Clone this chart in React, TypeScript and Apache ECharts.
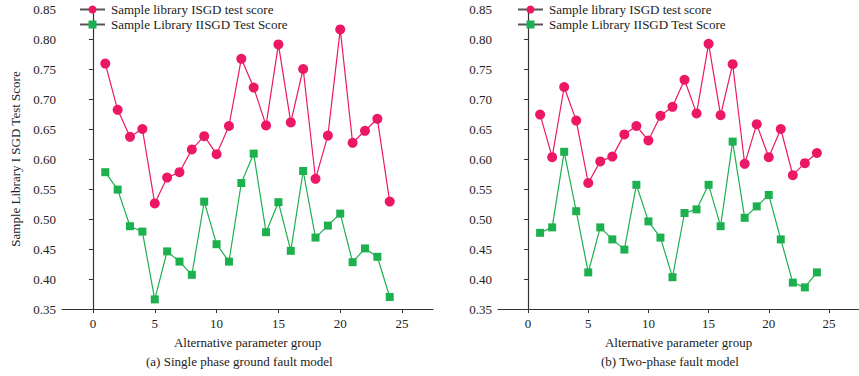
import React, { useEffect, useRef } from "react";
import * as echarts from "echarts";

const groups = Array.from({ length: 24 }, (_, i) => i + 1);
const seriesNames = ["Sample library ISGD test score", "Sample Library IISGD Test Score"];
const xTicks = [0, 5, 10, 15, 20, 25];

const singlePhaseISGD = [0.759, 0.682, 0.637, 0.65, 0.526, 0.569, 0.578, 0.616, 0.638, 0.608, 0.655, 0.767, 0.719, 0.656, 0.791, 0.661, 0.75, 0.567, 0.639, 0.816, 0.627, 0.647, 0.667, 0.529];
const singlePhaseIISGD = [0.578, 0.549, 0.488, 0.479, 0.366, 0.446, 0.429, 0.407, 0.529, 0.458, 0.429, 0.56, 0.609, 0.478, 0.528, 0.447, 0.58, 0.469, 0.489, 0.509, 0.428, 0.451, 0.437, 0.37];
const twoPhaseISGD = [0.674, 0.603, 0.72, 0.664, 0.56, 0.596, 0.604, 0.641, 0.655, 0.631, 0.672, 0.687, 0.732, 0.676, 0.792, 0.673, 0.758, 0.592, 0.658, 0.603, 0.65, 0.573, 0.593, 0.61];
const twoPhaseIISGD = [0.477, 0.486, 0.612, 0.513, 0.411, 0.486, 0.466, 0.449, 0.557, 0.496, 0.469, 0.403, 0.51, 0.516, 0.557, 0.488, 0.629, 0.502, 0.521, 0.54, 0.466, 0.394, 0.386, 0.411];

const PINK = "#EC1865";
const GREEN = "#1DB04E";
const FONT = "Liberation Serif";

export default function App() {
  const ref = useRef<HTMLDivElement>(null);
  useEffect(() => {
    if (!ref.current) return;
    const chart = echarts.init(ref.current, null, { renderer: "svg" });
    const grids = [
      { left: 62, top: 9, width: 371, height: 300 },
      { left: 498, top: 9, width: 370, height: 300 },
    ];
    const xAxis = [0, 1].map((i) => ({
      type: "value",
      gridIndex: i,
      min: -2.5,
      max: 27.5,
      name: "Alternative parameter group",
      nameLocation: "middle",
      nameGap: 27,
      nameTextStyle: { fontFamily: FONT, fontSize: 13, color: "#222" },
      axisLine: { show: true, onZero: false, lineStyle: { color: "#333", width: 1.2 } },
      axisTick: { show: true, length: 4, customValues: xTicks, lineStyle: { color: "#333" } },
      axisLabel: { customValues: xTicks, fontFamily: FONT, fontSize: 13, color: "#222", margin: 8 },
      splitLine: { show: false },
    }));
    const yAxis = [0, 1].map((i) => ({
      type: "value",
      gridIndex: i,
      min: 0.35,
      max: 0.85,
      interval: 0.05,
      name: i === 0 ? "Sample Library I SGD Test Score" : "",
      nameLocation: "middle",
      nameGap: 40,
      nameTextStyle: { fontFamily: FONT, fontSize: 13, color: "#222" },
      axisLine: { show: true, lineStyle: { color: "#333", width: 1.2 } },
      axisTick: { show: true, length: 4, lineStyle: { color: "#333" } },
      axisLabel: {
        fontFamily: FONT,
        fontSize: 13,
        color: "#222",
        margin: 6,
        formatter: (v: number) => v.toFixed(2),
      },
      splitLine: { show: false },
    }));
    const mk = (name: string, data: number[], idx: number, pink: boolean) => ({
      name,
      type: "line",
      xAxisIndex: idx,
      yAxisIndex: idx,
      data: groups.map((g, k) => [g, data[k]]),
      symbol: pink ? "circle" : "rect",
      symbolSize: pink ? 10 : 8,
      lineStyle: { color: pink ? PINK : GREEN, width: 1.2 },
      itemStyle: { color: pink ? PINK : GREEN },
    });
    const legend = (left: number) => ({
      left,
      top: 3,
      padding: 0,
      orient: "vertical",
      itemWidth: 25,
      itemHeight: 10,
      itemGap: 2,
      data: seriesNames,
      lineStyle: { color: "#555" },
      textStyle: { fontFamily: FONT, fontSize: 13, color: "#222", padding: [0, 0, 0, 1] },
    });
    chart.setOption({
      animation: false,
      backgroundColor: "#fff",
      grid: grids,
      xAxis,
      yAxis,
      legend: [legend(79), legend(517)],
      series: [
        mk(seriesNames[0], singlePhaseISGD, 0, true),
        mk(seriesNames[1], singlePhaseIISGD, 0, false),
        mk(seriesNames[0], twoPhaseISGD, 1, true),
        mk(seriesNames[1], twoPhaseIISGD, 1, false),
      ],
      graphic: [
        {
          type: "text",
          left: 240 - 94,
          top: 355,
          style: { text: "(a) Single phase ground fault model", font: `13px ${FONT}`, fill: "#222" },
        },
        {
          type: "text",
          left: 668 - 67,
          top: 355,
          style: { text: "(b) Two-phase fault model", font: `13px ${FONT}`, fill: "#222" },
        },
      ],
    });
    return () => chart.dispose();
  }, []);
  return <div ref={ref} style={{ width: 859, height: 376, position: "absolute", left: 0, top: 0 }} />;
}
